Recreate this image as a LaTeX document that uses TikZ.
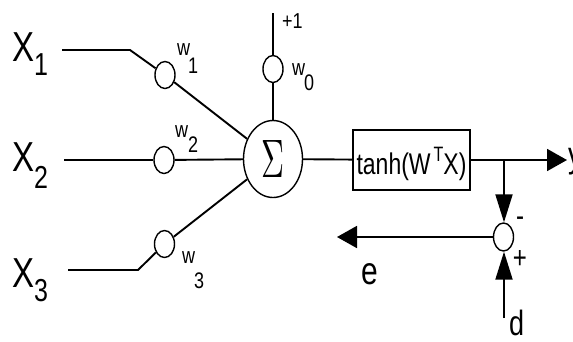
\documentclass[tikz,border=0pt]{standalone}
\usepackage{fontspec}
\setmainfont{Liberation Sans}
\usetikzlibrary{shapes.geometric,arrows.meta}
\newcommand\myvs[2]{\scalebox{1}[#1]{#2}}
\newcommand\myfs[1]{\fontsize{#1}{#1}\selectfont}
\begin{document}
\begin{tikzpicture}[x=1pt,y=-1pt,
  line/.style={line width=1.9pt},
  wnode/.style={draw,ellipse,line width=1.4pt,minimum width=20pt,minimum height=27pt,inner sep=0pt},
  txt/.style={inner sep=0pt,anchor=base west},
  bigx/.style={txt,font=\myfs{33}},
  subx/.style={txt,font=\myfs{25}},
  wlab/.style={txt,font=\myfs{18}},
  harrow/.style={line,-{Triangle[length=20pt,width=22pt]}},
  varrow/.style={line,-{Triangle[length=28pt,width=17pt]}},
]
\useasboundingbox (0,0) rectangle (573,341);

% inputs
\node[bigx] (x1) at (12.5,61) {\myvs{1.27}{X}};
\node[subx] (x1s) at (34,75) {\myvs{1.27}{1}};
\node[bigx] (x2) at (12.5,171) {\myvs{1.27}{X}};
\node[subx] (x2s) at (34,188) {\myvs{1.27}{2}};
\node[bigx] (x3) at (12.5,287) {\myvs{1.27}{X}};
\node[subx] (x3s) at (34,301) {\myvs{1.27}{3}};

% weights
\node[wnode] (w0) at (273,69) {};
\node[wnode] (w1) at (165,75) {};
\node[wnode] (w2) at (164,160) {};
\node[wnode] (w3) at (164.5,244) {};

\node[wlab] (w0l) at (292,75) {\myvs{1.25}{w}};
\node[wlab] (w0s) at (304,90) {\myvs{1.25}{0}};
\node[wlab] (w1l) at (177,55) {\myvs{1.25}{w}};
\node[wlab] (w1s) at (188,73) {\myvs{1.25}{1}};
\node[wlab] (w2l) at (175,137) {\myvs{1.25}{w}};
\node[wlab] (w2s) at (188,152) {\myvs{1.25}{2}};
\node[wlab] (w3l) at (182,263) {\myvs{1.25}{w}};
\node[wlab] (w3s) at (194,288) {\myvs{1.25}{3}};
\node[txt,font=\myfs{18}] (one) at (282,28) {\myvs{1.2}{+1}};

% summation
\node[draw,ellipse,line width=1.4pt,minimum width=59pt,minimum height=77pt,inner sep=0pt] (sig) at (273,159) {\resizebox{23pt}{37pt}{$\Sigma$}};

% activation box
\node[draw,line width=1.8pt,minimum width=117pt,minimum height=60pt,inner sep=0pt,text height=28pt,text depth=0pt,font=\myfs{23}] (box) at (411.5,160)
  {\myvs{1.3}{tanh(W\kern3pt\raisebox{9.5pt}{\myfs{16}T}X)}};

% error summing junction
\node[wnode,minimum width=20pt,minimum height=28pt] (sum) at (503.5,237) {};
\node[font=\myfs{24},inner sep=0pt] (minus) at (520,222) {\myvs{1.3}{-}};
\node[font=\myfs{24},inner sep=0pt] (plus) at (520,259) {\myvs{1.3}{+}};
\node[txt,font=\myfs{30}] (elab) at (361,284) {\myvs{1.3}{e}};
\node[txt,font=\myfs{27}] (dlab) at (509,335) {\myvs{1.3}{d}};
\node[txt,font=\myfs{28}] (ylab) at (568,167) {\myvs{1.3}{y}};

% coordinates
\coordinate (a1) at (62,50);
\coordinate (b1) at (130,50);
\coordinate (a2) at (64,160);
\coordinate (a3) at (68,270);
\coordinate (b3) at (138,270);
\coordinate (top) at (273,13);
\coordinate (br) at (504,160);
\coordinate (yend) at (567,160);
\coordinate (eend) at (337,237);
\coordinate (dst) at (504,318);

% connectors
\draw[line] (a1) -- (b1) -- (w1);
\draw[line] (w1) -- (sig);
\draw[line] (a2) -- (w2);
\draw[line] (w2) -- (sig);
\draw[line] (a3) -- (b3) -- (w3);
\draw[line] (w3) -- (sig);
\draw[line] (top) -- (w0);
\draw[line] (w0) -- (sig);
\draw[line] (sig) -- (box);
\draw[harrow] (box.east) -- (yend);
\draw[varrow] (br) -- (br |- sum.north);
\draw[harrow] (sum.west) -- (eend);
\draw[varrow] (dst) -- (dst |- sum.south);
\end{tikzpicture}
\end{document}
